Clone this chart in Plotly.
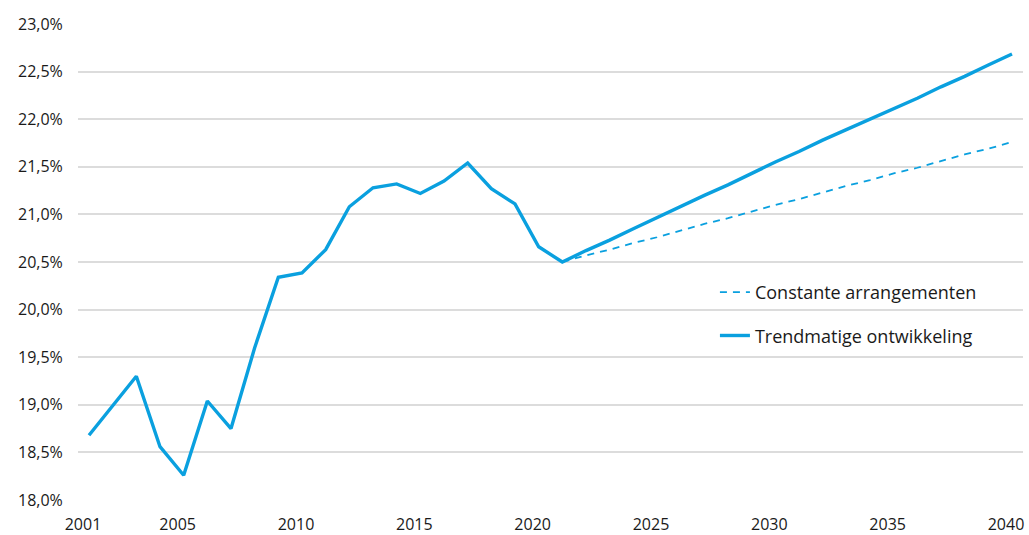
import plotly.graph_objects as go

# Historical data
hist_years = list(range(2001, 2022))
hist_values = [18.68, 18.99, 19.30, 18.56, 18.26, 19.04, 18.75, 19.60, 20.34, 20.385,
               20.63, 21.08, 21.28, 21.32, 21.22, 21.35, 21.54, 21.27, 21.11, 20.66, 20.50]

# Projections
proj_years = list(range(2021, 2041))
trend_values = [20.50, 20.62, 20.73, 20.85, 20.97, 21.08, 21.20, 21.31, 21.43, 21.55,
                21.66, 21.78, 21.89, 22.00, 22.11, 22.22, 22.34, 22.45, 22.57, 22.685]
const_values = [20.50, 20.57, 20.63, 20.70, 20.76, 20.83, 20.90, 20.96, 21.03, 21.10,
                21.16, 21.23, 21.30, 21.36, 21.43, 21.49, 21.56, 21.63, 21.69, 21.76]

x_ticks = [2001, 2005, 2010, 2015, 2020, 2025, 2030, 2035, 2040]
y_ticks = [18.0, 18.5, 19.0, 19.5, 20.0, 20.5, 21.0, 21.5, 22.0, 22.5, 23.0]
y_ticktext = ["18,0%", "18,5%", "19,0%", "19,5%", "20,0%", "20,5%",
              "21,0%", "21,5%", "22,0%", "22,5%", "23,0%"]

BLUE = "#0aa0df"
FONT = "Open Sans"
TXT = "#1a1a1a"

fig = go.Figure()
fig.add_trace(go.Scatter(
    x=proj_years, y=const_values, mode="lines", name="Constante arrangementen",
    line=dict(color=BLUE, width=1.8, dash="7px,6px"), legendgroup="a",
))
fig.add_trace(go.Scatter(
    x=hist_years + proj_years[1:], y=hist_values + trend_values[1:], mode="lines",
    name="Trendmatige ontwikkeling", line=dict(color=BLUE, width=3.4), legendgroup="b",
))

fig.update_layout(
    width=1029, height=535,
    margin=dict(l=78, r=6, t=24, b=35),
    plot_bgcolor="white", paper_bgcolor="white",
    font=dict(family=FONT, size=16, color=TXT),
    showlegend=True,
    legend=dict(
        x=0.674, y=0.391, xanchor="left", yanchor="middle",
        font=dict(family=FONT, size=18, color=TXT),
        bgcolor="rgba(0,0,0,0)", traceorder="grouped", tracegroupgap=17,
        itemwidth=30,
    ),
    xaxis=dict(
        range=[2000.535, 2040.465], tickmode="array", tickvals=x_ticks,
        ticktext=[str(v) for v in x_ticks],
        showgrid=False, zeroline=False, showline=False, automargin=False,
        ticks="outside", ticklen=10, tickcolor="rgba(0,0,0,0)",
        tickfont=dict(family=FONT, size=16, color=TXT), ticklabelshift=-6,
    ),
    yaxis=dict(
        range=[18, 23], tickmode="array", tickvals=y_ticks, ticktext=y_ticktext,
        showgrid=True, gridcolor="#dcdcdc", gridwidth=1.5, zeroline=False, showline=False,
        automargin=False,
        ticks="outside", ticklen=11, tickcolor="rgba(0,0,0,0)",
        tickfont=dict(family=FONT, size=16, color=TXT),
    ),
)

fig.write_html(
    "out.html",
    config={"displayModeBar": False},
    post_script="document.body.style.margin='0';document.body.style.padding='0';",
)
